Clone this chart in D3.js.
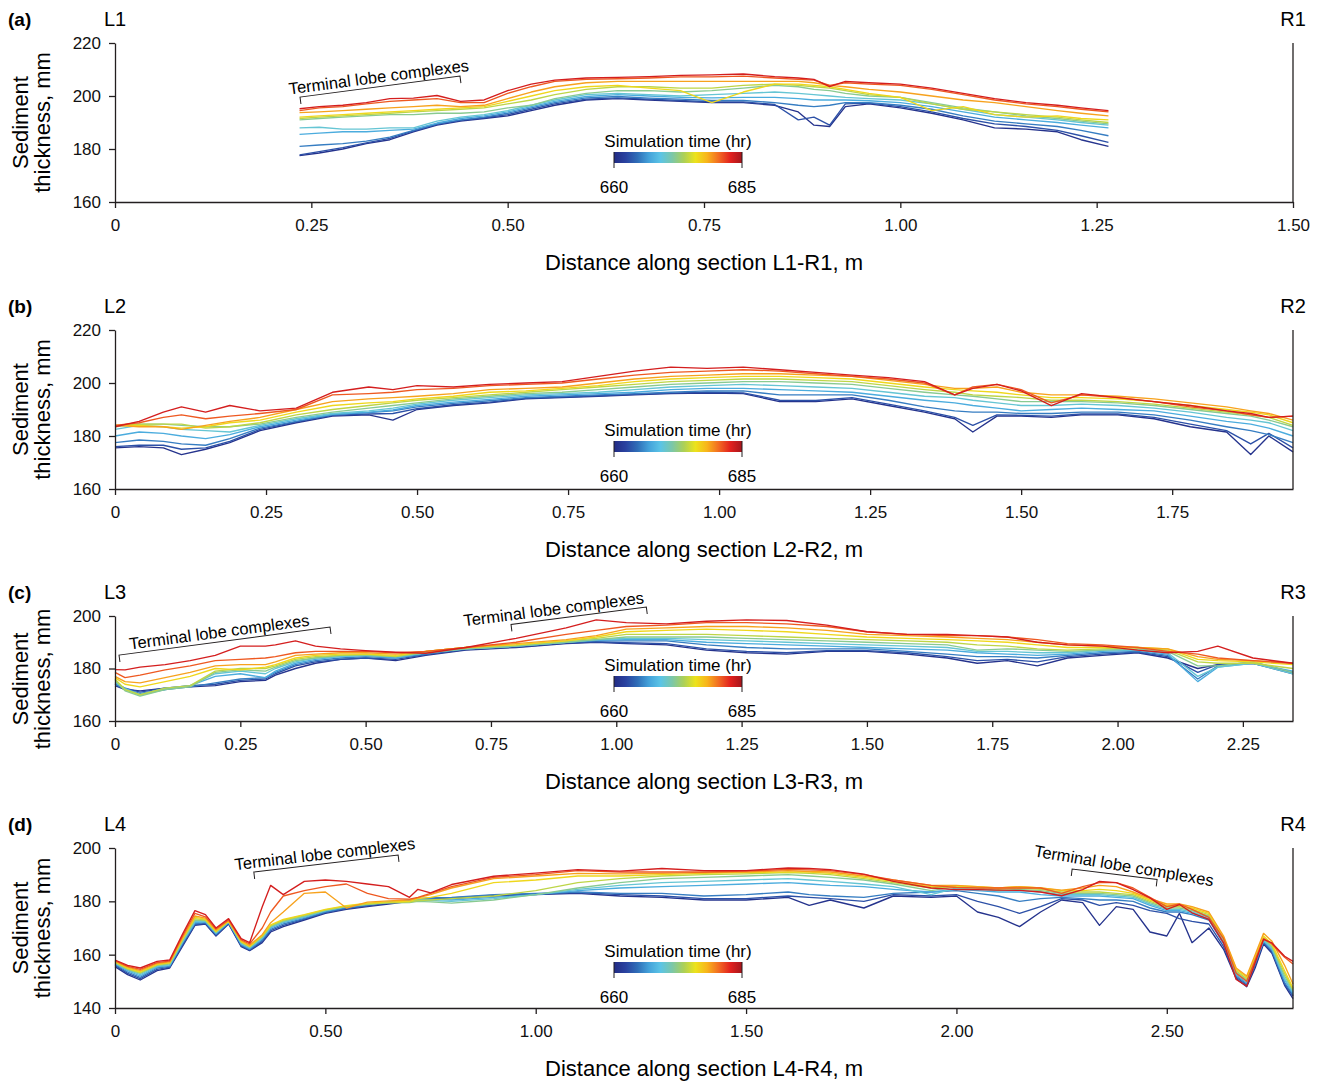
<!DOCTYPE html>
<html><head><meta charset="utf-8">
<script src="https://cdn.jsdelivr.net/npm/d3@7"></script>
<style>body{margin:0;background:#fff}svg{display:block}text{font-family:Arial,"Liberation Sans",sans-serif}</style>
</head><body><svg id="c" width="1322" height="1084"></svg>
<script>
// ---------- DATA ----------
const hours = [660, 662.5, 665, 667.5, 670, 672.5, 675, 677.5, 680, 682.5, 685];
const colorStops = ['#232c84','#2a42a0','#2f6db7','#44a2da','#5bc4e6','#7cc7a8','#acd057','#ece31c','#f8b41b','#f26b22','#e2211e','#a5161c'];
const cbTickLabels = ['660', '685'];

// Panel (a) section L1-R1
const distA = [0.235,0.26,0.29,0.32,0.35,0.38,0.41,0.44,0.47,0.50,0.53,0.56,0.60,0.64,0.68,0.72,0.76,0.80,0.84,0.87,0.89,0.91,0.93,0.96,1.00,1.04,1.08,1.12,1.16,1.20,1.23,1.265];
const thickA = [
 [177.5,178.5,180,182,183.5,186.5,189,190.5,191.5,192.5,194.5,196.5,198.5,199,198.5,198,197.5,197.5,196.5,194,189,188.5,196,197,195.5,193.5,191,188,187.5,186.5,183.5,181],
 [177.8,179,180.5,182.3,184,186.8,189.3,190.8,191.8,193,195,197,198.8,199.3,198.8,198.3,197.8,197.8,196.8,191,192,189,197,197.3,196,194,191.5,189.5,188.5,187,185,182.5],
 [181,181.5,182,183,184.5,187,189.5,191,192,193.5,195.5,197.5,199.3,199.8,199.2,198.8,198.3,198.3,197.5,196.5,196,196.5,197.5,197.5,196.5,195,192.5,190.5,189.5,188.5,187,185],
 [185.5,186,186.5,186.5,187,187.5,189.8,191.5,192.5,194,196,198,199.8,200.5,200,199.5,199.3,199.5,199.5,199,198.5,198.5,198.5,198.2,197.5,196,194,192,191,190,189,188],
 [188,188.2,187.5,187.5,188,188,190.5,192,193,194.5,196.5,198.5,200.5,201,200.5,200,200.5,201,201.5,201,200.5,200,199.5,199,198.5,197,195,193,192,191,190,189],
 [191,191.5,192,192.5,193,193,193.5,193.5,194,195.5,196.5,199,201,202,202,201.5,202,203,204,203.5,202.5,202,201,200,199.5,197.5,195.5,194,192.5,191.5,190.5,189.5],
 [191.5,192,192.5,193,193.5,194,194.5,195,195.5,197,198.5,200.5,202.5,203.5,203.5,203,203,204,204.5,204,203.5,203,202,200.5,199.5,197,195,194,193,192,191,190],
 [192,192.5,193,193.5,194,194.5,195,195.5,196,198,200,202,203.5,204,203,202,197.5,201.5,204.5,204.5,204,203.5,202.5,201,199.5,194.5,196,193,192,192.5,191.5,191],
 [193.7,194,194.5,195,195.5,196,196.5,196,196.5,199,201.5,203.5,205,205.5,205.5,205.5,205.5,205.5,205.5,205.5,205,204,203.5,202.5,201.5,200,198.5,197.5,196,194.5,193.5,192.5],
 [194.5,195.5,196,197,198,198.5,199,197.5,197.5,201,203.5,205.5,206.3,206.5,206.8,207.2,207.2,207.5,206.8,206.3,206,204,205,204.5,204,202.5,200.5,198.5,197,196,195,194],
 [195.2,196,196.5,197.5,199,199.2,200.2,198,198.5,202,204.5,206,206.8,207,207.3,207.8,208,208.3,207.3,206.8,206.3,203.5,205.5,205,204.5,203,201,199,197.5,196.5,195.5,194.5]
];

// Panel (b) section L2-R2
const distB = [0,0.04,0.08,0.11,0.15,0.19,0.24,0.3,0.36,0.42,0.46,0.5,0.56,0.62,0.68,0.74,0.8,0.86,0.92,0.98,1.04,1.1,1.16,1.22,1.28,1.34,1.39,1.42,1.46,1.5,1.55,1.6,1.66,1.72,1.78,1.84,1.88,1.91,1.95];
const thickB = [
 [175.5,176,175.5,173,175,177.5,182,185,187.5,188,186,190,191.5,192.5,194,194.5,195,195.5,196,196.2,196,193,193,194,191.5,189,186.5,181.5,187.5,187.5,187,188,188,186.5,183.5,181.5,173,180,174],
 [176,176.5,176.5,175,175.5,178,182.5,185.3,187.8,188.3,188.5,190.3,191.8,192.8,194.2,194.7,195.2,195.7,196.2,196.5,196.3,193.5,193.4,194.5,192,189.5,187,184,188,187.8,187.5,188.3,188.3,187,184.5,182,177,181,175.5],
 [177.5,178.5,178,177,176.5,179,183,185.5,188,188.8,189.5,191,192.3,193.3,194.5,195,195.5,196,196.5,197,197,195.5,195.5,195.5,193.5,191,189.5,189,189,188.5,188.5,189,189,188,186,183.5,182,180.5,177.5],
 [180,181.5,181,180,179,180.5,183.5,186,188.2,189,189.8,191.5,192.8,193.8,195,195.5,196,196.5,197.5,198,198,197.5,197,196.5,195,193.5,192.5,191.5,190.5,189.5,190,190.5,190,189.5,187.5,185.5,184.5,183,180],
 [182.5,184,183.5,182.5,182,181.5,184,186.5,188.5,189.5,190.5,192,193.5,194.5,195.5,196,196.5,197.5,198.5,199,199.5,199,198.5,198,196.5,195,194.5,193.5,192.5,191.5,191.5,192,191.5,190.5,189,187,186,185,182],
 [183.5,184.5,184.5,184,183.5,183.5,184.5,187,189,190.5,191.5,192.5,194,195,196,196.5,197.5,198.5,199.5,200,200.5,200.5,200,199.5,198,196.5,195.5,195,194,193,193,193,192.5,191.5,190,188.5,187.5,186,183.5],
 [184,184.5,184.5,184.5,183,183.5,185,188,190,191.5,192.5,193.5,194.5,195.5,196.5,197.5,198.5,199.5,200.5,201,201.5,201.5,201,200.5,199,197.5,196.5,195.5,195,194.5,193.5,193.5,193,192,190.5,189,188,187,184],
 [184,184,183.5,183,183.5,185,186,189,191.5,192.5,193,194,195,196.5,197,198,199,200.5,201.5,202,202.5,202.5,202,201.5,200,198.5,197.5,197,196.5,195.5,194.5,194.5,194,193,191.5,190,189,188,185],
 [184,183.5,183.5,182.5,184,185.5,187,190,193,194,194.5,195,196,197.5,198,198.5,200,201.5,202.5,203,203.5,203.5,203,202.5,201,199.5,198,198,198.5,196.5,195.5,195.5,195,194,192.5,191,189.5,188.5,186],
 [184,185,187,188,186.5,187.5,188.5,190,195.5,196,196.5,197.5,198,199,199.5,200,201.5,203,204,204.5,205,204.5,203.5,202.5,201.5,200,195.5,198.5,199.5,197.5,192.5,195.5,194.5,193,191,189.5,188,187,187.5],
 [183.5,185.5,189,191,189,191.5,189.5,190.5,196.5,198.5,197.5,199,198.5,199.5,200,200.5,202.5,204.5,206,205.5,206,205,204,203,202,200.5,195.5,198,199.5,197,191.5,196,194.5,193,191.5,189.5,188.5,187,187.5]
];

// Panel (c) section L3-R3
const distC = [0,0.02,0.05,0.1,0.15,0.2,0.25,0.3,0.32,0.36,0.4,0.45,0.5,0.56,0.62,0.7,0.8,0.9,0.96,1.02,1.1,1.18,1.26,1.34,1.42,1.5,1.58,1.66,1.72,1.78,1.84,1.9,1.97,2.04,2.1,2.16,2.2,2.27,2.35];
const thickC = [
 [173.5,172,171.5,172.5,173,173.5,175,175.5,177.5,180,182,183.5,184,183,185,187,188,189.5,190,189.5,189,187,186,185.5,186.5,186.5,185.5,184,182,183,181,184,185,186,184,180,181.5,182,178.5],
 [174,172.5,171,172.5,173.5,174,175.5,176,178,181,182.5,183.5,184,183.5,185.3,187.2,188.2,189.7,190.2,189.8,189.5,187.5,186.5,186,186.8,186.8,186,184.5,183,183.5,182.5,184.5,185.5,186.3,184.5,178.5,181.5,182,178],
 [174,172,170.5,172,173,174.5,176,176.5,178.5,181.5,183,184,184.5,184,185.5,187.5,188.5,190,190.5,190.5,190.5,189,188,187.5,187.5,187.5,186.5,185.5,184.5,184.5,184,185,186,186.5,185,176,181,182.5,178.5],
 [174.5,172.5,170,172,173.5,177,178,176.5,179,182,183.5,184.5,185,184,186,187.5,188.5,190,190.8,191,191,190,189.5,189,188.5,188,187.5,187,186,185.5,185,185.5,186.5,187,185.5,175,180.5,182,179],
 [175,172,170,172.5,173.5,178,179,178,180,182.5,184,184.5,185,184.5,186,187.5,188.5,190,191,191.5,191.5,191,190.5,190,189.5,189,188.5,188,186.5,186.5,186,186,187,187,186,177,180.5,182,178],
 [175.5,171.5,169.5,172,173,178.5,179.5,179,180.5,183,184,185,185,184.5,186,187.5,188.5,190,191,192,192,192,191.5,191,190.5,190,189.5,189,187,187.5,187,186.5,187,187.5,186.5,181,181,182.5,178.5],
 [176,172,170,172.5,173.5,179,180,180,181,183.5,184.5,185,185.5,184.5,186.5,188,189,190.5,191.5,193,193,193,192.5,192,191.5,191,190.5,190,189,188.5,187.5,187,187.5,188,187,182.5,182,182,180],
 [176.5,174,173,175,177,180,179.5,180.5,181.5,184,185,185.5,185.5,185,186.5,188,189,190.5,192,194,194.5,195,194.5,194,193,192,191.5,191,190.5,190,189,188,188,188,187.5,183.5,183,182.5,181.5],
 [177,175,174.5,176.5,178.5,181,181.5,181.5,182.5,185,185.5,186,186,185.5,186.5,188,189.5,191,192.5,195,195.5,196,196,195.5,194.5,193,192.5,192,191.5,191,190,189,188.5,188,187.5,184.5,183.5,183,182],
 [178.5,176.5,177.5,179.5,181,183,183.5,184,184.5,186,186.5,186.5,186.5,186,186.5,188,190,193,194.5,196,196.5,197.5,197.5,197,196,194,193,192.5,192.5,192,191,189.5,189,188,186.5,185.5,184,183,182],
 [179.6,179.5,180.5,181.5,183,185,188.5,188.5,189,190.5,188.5,187.5,186.8,186.2,185.8,188,191.5,195.5,198.5,197.5,197,198,198.5,198.3,196.5,194,193,193,192.5,192,190,189,188.5,187,186,186.5,188.5,184,182]
];

// Panel (d) section L4-R4
const distD = [0,0.03,0.06,0.1,0.13,0.16,0.19,0.215,0.24,0.27,0.3,0.32,0.35,0.37,0.4,0.45,0.5,0.55,0.6,0.65,0.7,0.72,0.75,0.8,0.9,1.0,1.1,1.2,1.3,1.4,1.5,1.6,1.65,1.7,1.78,1.85,1.94,2.0,2.05,2.1,2.15,2.2,2.25,2.3,2.34,2.38,2.42,2.46,2.5,2.53,2.56,2.6,2.635,2.665,2.69,2.71,2.73,2.75,2.78,2.8];
const thickD = [
 [155.5,152.5,150.5,154,155,163,171,171.5,167,171.5,163,161.5,164.5,168.5,170.5,173,175.5,177,178,179,180,180.5,181,181,182,182.5,183,182,181.5,180.5,180.5,181.5,178.5,180.5,177.5,182,181.5,182,176,174,170.5,176,180.5,179.5,171,178,177,168.5,167,175.5,164.5,170,162,151,148,155,164,160.5,148.5,143.5],
 [156,153,151,154.5,155.3,163.5,171.3,171.7,167.3,171.7,163.3,161.7,165,169,171,173.3,175.8,177.3,178.3,179.3,180.3,180.8,181.2,181.3,182.3,182.7,183.3,182.5,182,181,181,182,181.5,181,180,182.5,182,182.5,180,178,175.5,178,181,180.5,178.5,179.5,178.5,176.5,175.5,173.5,172.5,171.5,163,151.5,148.5,156,164.5,161,149,144.5],
 [156.3,153.5,151.5,155,155.6,164,171.6,172,167.6,172,163.6,162,165.5,169.5,171.5,173.6,176,177.6,178.6,179.6,180.5,181,181.3,181.5,182.5,183,183.5,183,183,182,182.5,183.5,182.5,182,181.5,183,183.5,184,183,182,180,181,181.5,181,180.5,180.5,180,177.5,176,176,175,173,164,152,149,156.5,165,161.5,149.5,145],
 [156.6,154,152,155.4,155.9,164.4,172,172.3,167.9,172.2,163.9,162.3,166,170,172,174,176.3,177.9,178.9,179.8,180.3,180.8,180.8,180.5,181.5,182.5,184,185,185.5,186,186.5,187,186.5,186,185.5,184.5,183.5,184.5,184,183.5,183.5,182.5,182,182,182,181.5,181,178.5,176.5,176.5,175.5,173.5,164.5,152.5,149.5,157,165,162,150.5,145.5],
 [156.9,154.3,152.5,155.7,156.2,164.7,172.5,172.6,168.2,172.3,164.2,162.6,166.3,170.3,172.3,174.3,176.5,178,179,179.6,180,180.5,180.3,180,181,182.5,184.5,186,187,187.5,188,188.5,188,187.5,186.5,185.5,182.5,185,184.5,184,184,183.5,182.5,182.5,182.5,182,181.5,179,177,177,176,174,165,153,150,157.5,165.5,162.5,151,146],
 [157,154.5,153,156,156.5,165,173,172.8,168.4,172.4,164.5,162.8,166.6,170.6,172.6,174.5,176.6,178,178.9,179.4,179.5,180,179.8,179.3,180.5,182.5,185,187,188.5,189,189.5,190,189.5,189,188,186.5,184,185.5,185,184,184.5,184,183,183,183,182.5,182,179.5,177.5,177.5,176.5,174.5,165.5,153.5,150.5,158,166,163,152,146.5],
 [157.2,154.7,153.3,156.2,156.8,165.5,173.5,173,168.6,172.5,164.8,163,166.9,170.9,172.9,174.8,176.8,178.2,179,179.5,179.7,180.3,180.5,181,182,184,187,188.5,189.5,190,190.3,190.8,190.5,190,188.5,187,185,185.5,185.5,184.5,185,184.5,183.5,183.5,183.5,183,182.5,180,178,178,177,175,166,154,151,158.5,166.5,163.5,153,147],
 [157.4,155,153.6,156.4,157,165.8,174,173.3,168.8,172.6,165,163.2,167.2,171.2,173.2,175,177,178.4,179.3,179.8,180,181,181.5,183,187,188,189.5,189.5,190,190.5,190.8,191,191,190.5,189,187.5,185.5,185.8,185.5,185,185.5,185,184,184,184.5,184,183,180.5,178.5,178.5,177.5,175.5,166.5,154.5,151.5,159,167,164,154,147.5],
 [157.6,155.3,154,156.7,157.3,166.2,174.5,173.7,169.2,172.8,165.3,163.5,167.5,172,176,183,183.5,177.5,179.7,180.2,180.5,181.3,182.5,185,188.5,189.5,190.5,190.3,190.5,190.8,191,191.5,191.2,191,189.5,188,186,186,185.5,185,185.5,185,184.2,185,186,185.5,183.5,181,179,179,178,176,167,155,152,160,168,165,156,149],
 [157.8,155.6,154.5,157,157.6,166.8,175.5,174.2,169.6,173,165.6,164,170,176,182,184,185.5,186.5,183,181,180.8,181.5,183,185.5,189,190,191.5,191,191,191,191.3,192,191.8,191.5,190,188,186,185.2,185,185,185,185,183,185.5,187,187,185,181.5,178,179,177,174,166,153,150,158,166,164,159,156.5],
 [158,156,155,157.5,158,167.5,176.5,175,170,173.5,166,164.5,178,186,182.5,187.5,188,187.5,186.5,185.5,181.5,184.5,183.2,186.3,189.4,190.6,191.9,191.3,192.3,191.5,191.5,192.5,192.3,191.9,190.2,187.5,185,184.4,184.4,184.2,184.1,183.5,182.1,184.4,187.5,187,184.4,181.3,177,178.8,175.7,173.2,164.4,150.7,148.2,157,165.7,164.4,159.4,157.5]
];

// ---------- LAYOUT ----------
const panels = [
 {tag:'(a)', L:'L1', R:'R1', sec:'L1-R1', top:43, bottom:202, xMax:1.5, xTicks:[0,0.25,0.5,0.75,1,1.25,1.5], yDom:[160,220], yTicks:[160,180,200,220], dist:distA, thick:thickA, cbTop:152, labY:122.5,
  notes:[{a:[0.2356,199.6], b:[0.4393,207.5], shift:0}]},
 {tag:'(b)', L:'L2', R:'R2', sec:'L2-R2', top:330, bottom:489, xMax:1.95, xTicks:[0,0.25,0.5,0.75,1,1.25,1.5,1.75], yDom:[160,220], yTicks:[160,180,200,220], dist:distB, thick:thickB, cbTop:441, labY:409.5, notes:[]},
 {tag:'(c)', L:'L3', R:'R3', sec:'L3-R3', top:616, bottom:721, xMax:2.35, xTicks:[0,0.25,0.5,0.75,1,1.25,1.5,1.75,2,2.25], yDom:[160,200], yTicks:[160,180,200], dist:distC, thick:thickC, cbTop:676, labY:679,
  notes:[{a:[0.008,185.1], b:[0.429,195.8], shift:-4},{a:[0.79,196.8], b:[1.06,203.4], shift:-24}]},
 {tag:'(d)', L:'L4', R:'R4', sec:'L4-R4', top:848, bottom:1008, xMax:2.8, xTicks:[0,0.5,1,1.5,2,2.5], yDom:[140,200], yTicks:[140,160,180,200], dist:distD, thick:thickD, cbTop:962, labY:928,
  notes:[{a:[0.33,191], b:[0.673,197.4], shift:0},{a:[2.275,192.1], b:[2.477,188.2], shift:8, textAngle:9.5}]}
];

const LEFT = 115, RIGHT = 1293, INK = '#231f20';
const color = d3.scaleLinear().domain(colorStops.map((c,i)=>i/(colorStops.length-1))).range(colorStops).interpolate(d3.interpolateRgb);
const lineColor = h => color(0.03 + 0.9*(h-hours[0])/(hours[hours.length-1]-hours[0]));

const svg = d3.select('#c');
const defs = svg.append('defs');
const grad = defs.append('linearGradient').attr('id','cbg').attr('x1','0%').attr('x2','100%');
colorStops.forEach((c,i)=>grad.append('stop').attr('offset',(100*i/(colorStops.length-1))+'%').attr('stop-color',c));

panels.forEach(p=>{
  const x = d3.scaleLinear().domain([0,p.xMax]).range([LEFT,RIGHT]);
  const y = d3.scaleLinear().domain(p.yDom).range([p.bottom,p.top]);
  const g = svg.append('g');
  const line = d3.line().x(d=>x(d[0])).y(d=>y(d[1]));
  p.thick.forEach((row,i)=>{
    g.append('path').datum(row.map((v,j)=>[p.dist[j],v]))
      .attr('d',line).attr('fill','none').attr('stroke',lineColor(hours[i]))
      .attr('stroke-width',1.35).attr('stroke-linejoin','round');
  });
  // axes
  const xa = g.append('g').attr('transform',`translate(0,${p.bottom})`)
    .call(d3.axisBottom(x).tickValues(p.xTicks).tickSize(6).tickSizeOuter(0).tickPadding(11)
      .tickFormat(d=>d===0?'0':d.toFixed(2)));
  const ya = g.append('g').attr('transform',`translate(${LEFT},0)`)
    .call(d3.axisLeft(y).tickValues(p.yTicks).tickSize(6).tickSizeOuter(0).tickPadding(8));
  [xa,ya].forEach(a=>{
    a.attr('font-family','Arial,"Liberation Sans",sans-serif').attr('font-size',17);
    a.selectAll('path,line').attr('stroke',INK).attr('stroke-width',1.3);
    a.selectAll('text').attr('fill','#111');
  });
  g.append('line').attr('x1',RIGHT).attr('x2',RIGHT).attr('y1',p.top).attr('y2',p.bottom).attr('stroke',INK).attr('stroke-width',1.3);
  // labels
  g.append('text').attr('x',8).attr('y',p.top-17).attr('font-size',19).attr('font-weight','bold').text(p.tag);
  g.append('text').attr('x',LEFT).attr('y',p.top-17).attr('font-size',20).attr('text-anchor','middle').text(p.L);
  g.append('text').attr('x',RIGHT).attr('y',p.top-17).attr('font-size',20).attr('text-anchor','middle').text(p.R);
  g.append('text').attr('transform',`translate(28,${p.labY}) rotate(-90)`).attr('font-size',22).attr('text-anchor','middle').text('Sediment');
  g.append('text').attr('transform',`translate(50,${p.labY}) rotate(-90)`).attr('font-size',22).attr('text-anchor','middle').text('thickness, mm');
  g.append('text').attr('x',(LEFT+RIGHT)/2).attr('y',p.bottom+68).attr('font-size',22).attr('text-anchor','middle').text(`Distance along section ${p.sec}, m`);
  // colorbar
  const cb = g.append('g');
  const cbX0 = 614, cbX1 = 742, cbH = 11;
  cb.append('text').attr('x',(cbX0+cbX1)/2).attr('y',p.cbTop-5).attr('font-size',17).attr('text-anchor','middle').text('Simulation time (hr)');
  cb.append('rect').attr('x',cbX0).attr('y',p.cbTop).attr('width',cbX1-cbX0).attr('height',cbH).attr('fill','url(#cbg)');
  [cbX0,cbX1].forEach((xx,i)=>{
    cb.append('line').attr('x1',xx).attr('x2',xx).attr('y1',p.cbTop).attr('y2',p.cbTop+cbH+5).attr('stroke',INK).attr('stroke-width',1);
    cb.append('text').attr('x',xx).attr('y',p.cbTop+41).attr('font-size',17).attr('text-anchor','middle').text(cbTickLabels[i]);
  });
  // annotations
  p.notes.forEach(n=>{
    const x1=x(n.a[0]), y1=y(n.a[1]), x2=x(n.b[0]), y2=y(n.b[1]);
    const ang = Math.atan2(y2-y1,x2-x1)*180/Math.PI;
    const len = Math.hypot(x2-x1,y2-y1);
    const ag = g.append('g').attr('transform',`translate(${x1},${y1}) rotate(${ang})`);
    ag.append('path').attr('d',`M0,7V0H${len}V7`).attr('fill','none').attr('stroke',INK).attr('stroke-width',1);
    const ta = n.textAngle!==undefined ? n.textAngle-ang : 0;
    ag.append('text').attr('transform',`translate(${len/2+n.shift},-4) rotate(${ta})`)
      .attr('font-size',16.5).attr('text-anchor','middle').text('Terminal lobe complexes');
  });
});
</script></body></html>
